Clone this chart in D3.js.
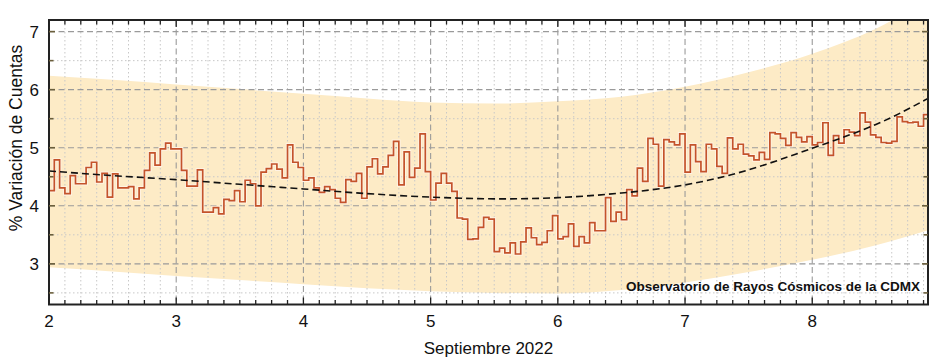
<!DOCTYPE html>
<html><head><meta charset="utf-8">
<script src="https://cdn.jsdelivr.net/npm/d3@7"></script>
<style>body{margin:0;background:#fff;} svg{display:block;font-family:"Liberation Sans",Arial,sans-serif;}</style>
</head><body><svg id="c" width="941" height="360"></svg>
<script>
// ---- data ----
const startDay = 2;          // first hourly bin starts on 2 Sept
const binsPerDay = 24;       // hourly bins
const counts = [
 4.26,4.79,4.31,4.21,4.52,4.38,4.38,4.66,4.75,4.41,4.56,4.15,4.55,4.31,4.31,4.33,4.12,4.31,4.61,4.91,4.70,4.98,5.08,4.98,
 4.98,4.61,4.34,4.34,4.62,3.89,3.89,3.97,3.86,4.11,4.09,4.26,4.07,4.44,4.38,4.00,4.58,4.64,4.72,4.63,4.48,5.05,4.75,4.66,
 4.44,4.48,4.31,4.23,4.33,4.28,4.13,4.06,4.45,4.42,4.56,4.13,4.67,4.81,4.55,4.67,4.87,5.11,4.36,4.93,4.49,4.65,5.24,4.59,
 4.10,4.39,4.56,4.39,4.25,3.79,3.77,3.42,3.43,3.63,3.80,3.77,3.21,3.27,3.19,3.36,3.17,3.38,3.62,3.45,3.33,3.37,3.57,3.83,
 3.43,3.47,3.69,3.30,3.47,3.36,3.71,3.57,3.57,4.14,3.73,3.89,3.76,4.28,4.17,4.65,4.42,5.16,5.06,4.34,5.14,5.10,5.05,5.24,
 4.58,5.05,4.76,4.59,5.06,4.98,4.68,4.56,5.17,4.98,5.06,4.89,4.86,4.79,4.92,4.80,5.26,5.24,5.16,5.04,5.26,5.18,5.10,5.19,
 5.05,5.09,5.43,4.87,5.21,5.08,5.31,5.27,5.21,5.60,5.44,5.22,5.18,5.09,5.08,5.11,5.53,5.45,5.43,5.44,5.37,5.57
];
const fitDays   = [2.0,2.5,3.0,3.5,4.0,4.5,5.0,5.5,6.0,6.5,7.0,7.5,8.0,8.5,8.91];
const fitValues = [4.60,4.52,4.45,4.37,4.29,4.21,4.15,4.12,4.14,4.22,4.36,4.62,4.99,5.40,5.85];
const bandDays  = [2.0,2.5,3.0,3.5,4.0,4.5,5.0,5.5,6.0,6.5,7.0,7.5,8.0,8.5,8.91];
const bandUpper = [6.24,6.17,6.09,6.01,5.93,5.85,5.78,5.76,5.80,5.88,6.05,6.30,6.62,7.05,7.55];
const bandLower = [2.94,2.87,2.79,2.72,2.65,2.58,2.53,2.50,2.49,2.55,2.68,2.86,3.07,3.32,3.58];
const xTickLabels = ["2","3","4","5","6","7","8"];
const yTickLabels = ["3","4","5","6","7"];
const xTitle = "Septiembre 2022";
const yTitle = "% Variación de Cuentas";
const credit = "Observatorio de Rayos Cósmicos de la CDMX";

// ---- layout ----
const svg = d3.select("#c");
const x = d3.scaleLinear().domain([2, 8.91]).range([49, 928]);
const y = d3.scaleLinear().domain([2.3, 7.2]).range([304.5, 20]);
const [x0, x1] = x.range(), [y0, y1] = y.range();

svg.append("defs").append("clipPath").attr("id","pc")
  .append("rect").attr("x",x0).attr("y",y1).attr("width",x1-x0).attr("height",y0-y1);
const plot = svg.append("g").attr("clip-path","url(#pc)");

// band
const bandData = bandDays.map((d,i)=>({d, u:bandUpper[i], l:bandLower[i]}));
plot.append("path").datum(bandData)
  .attr("fill","#fdebc6")
  .attr("d", d3.area().curve(d3.curveMonotoneX).x(p=>x(p.d)).y0(p=>y(p.l)).y1(p=>y(p.u)));

// minor grid
const xMinor = d3.range(2, 8.91, 1/8).filter(v => Math.abs(v - Math.round(v)) > 1e-6);
const yMinor = d3.range(2.5, 7.2, 1);
const grid = plot.append("g");
grid.selectAll(".xm").data(xMinor).join("line")
  .attr("x1",d=>x(d)).attr("x2",d=>x(d)).attr("y1",y1).attr("y2",y0)
  .attr("stroke","#c8c8c8").attr("stroke-width",1).attr("stroke-dasharray","1.5,2.5");
grid.selectAll(".ym").data(yMinor).join("line")
  .attr("y1",d=>y(d)).attr("y2",d=>y(d)).attr("x1",x0).attr("x2",x1)
  .attr("stroke","#c8c8c8").attr("stroke-width",1).attr("stroke-dasharray","1.5,2.5");
// major grid
const xMajor = xTickLabels.map(Number), yMajor = yTickLabels.map(Number);
grid.selectAll(".xM").data(xMajor).join("line")
  .attr("x1",d=>x(d)).attr("x2",d=>x(d)).attr("y1",y1).attr("y2",y0)
  .attr("stroke","#9a9a9a").attr("stroke-width",1.1).attr("stroke-dasharray","6,3.5");
grid.selectAll(".yM").data(yMajor).join("line")
  .attr("y1",d=>y(d)).attr("y2",d=>y(d)).attr("x1",x0).attr("x2",x1)
  .attr("stroke","#9a9a9a").attr("stroke-width",1.1).attr("stroke-dasharray","6,3.5");

// step series
const pts = counts.map((v,i)=>[startDay + i/binsPerDay, v]);
pts.push([startDay + counts.length/binsPerDay, counts[counts.length-1]]);
const stepLine = d3.line().curve(d3.curveStepAfter).x(p=>x(p[0])).y(p=>y(p[1]));
plot.append("path").datum(pts).attr("d",stepLine)
  .attr("fill","none").attr("stroke","#fff3e4").attr("stroke-width",3.6).attr("stroke-linejoin","miter");
plot.append("path").datum(pts).attr("d",stepLine)
  .attr("fill","none").attr("stroke","#c4532b").attr("stroke-width",1.7).attr("stroke-linejoin","miter");

// fit
plot.append("path").datum(fitDays.map((d,i)=>[d,fitValues[i]]))
  .attr("d", d3.line().curve(d3.curveNatural).x(p=>x(p[0])).y(p=>y(p[1])))
  .attr("fill","none").attr("stroke","#111").attr("stroke-width",1.6).attr("stroke-dasharray","7,4");

// frame
svg.append("rect").attr("x",x0).attr("y",y1).attr("width",x1-x0).attr("height",y0-y1)
  .attr("fill","none").attr("stroke","#222").attr("stroke-width",2);

// ticks
const tk = svg.append("g");
const xAllMinor = d3.range(2, 8.91, 1/8);
tk.selectAll(".bt").data(xAllMinor).join("line")
  .attr("x1",d=>x(d)).attr("x2",d=>x(d))
  .attr("y1",y0).attr("y2",d=>y0-(Math.abs(d-Math.round(d))<1e-6?7:4.5))
  .attr("stroke","#222").attr("stroke-width",1.3);
tk.selectAll(".tt").data(xAllMinor).join("line")
  .attr("x1",d=>x(d)).attr("x2",d=>x(d))
  .attr("y1",y1).attr("y2",d=>y1+(Math.abs(d-Math.round(d))<1e-6?7:4.5))
  .attr("stroke","#222").attr("stroke-width",1.3);
const yAllTicks = d3.range(2.5, 7.2, 0.5);
[[x0,1],[x1,-1]].forEach(([xx,dir])=>{
  tk.append("g").selectAll("line").data(yAllTicks).join("line")
    .attr("y1",d=>y(d)).attr("y2",d=>y(d))
    .attr("x1",xx).attr("x2",d=>xx+dir*(Number.isInteger(d)?6:4.5))
    .attr("stroke","#6b5f3c").attr("stroke-width",1.6);
});

// labels
svg.append("g").selectAll("text").data(xTickLabels).join("text")
  .attr("x",d=>x(+d)).attr("y",327).attr("text-anchor","middle")
  .attr("font-size",17).attr("fill","#111").text(d=>d);
svg.append("g").selectAll("text").data(yTickLabels).join("text")
  .attr("x",39).attr("y",d=>y(+d)).attr("dy","0.36em").attr("text-anchor","end")
  .attr("font-size",17).attr("fill","#111").text(d=>d);
svg.append("text").attr("x",(x0+x1)/2).attr("y",354).attr("text-anchor","middle")
  .attr("font-size",17).attr("fill","#111").text(xTitle);
svg.append("text").attr("transform",`translate(22,138) rotate(-90)`)
  .attr("text-anchor","middle").attr("font-size",17.5).attr("fill","#111").text(yTitle);
svg.append("text").attr("x",920).attr("y",291).attr("text-anchor","end")
  .attr("font-size",13.5).attr("font-weight","bold").attr("fill","#111").text(credit);
</script></body></html>
